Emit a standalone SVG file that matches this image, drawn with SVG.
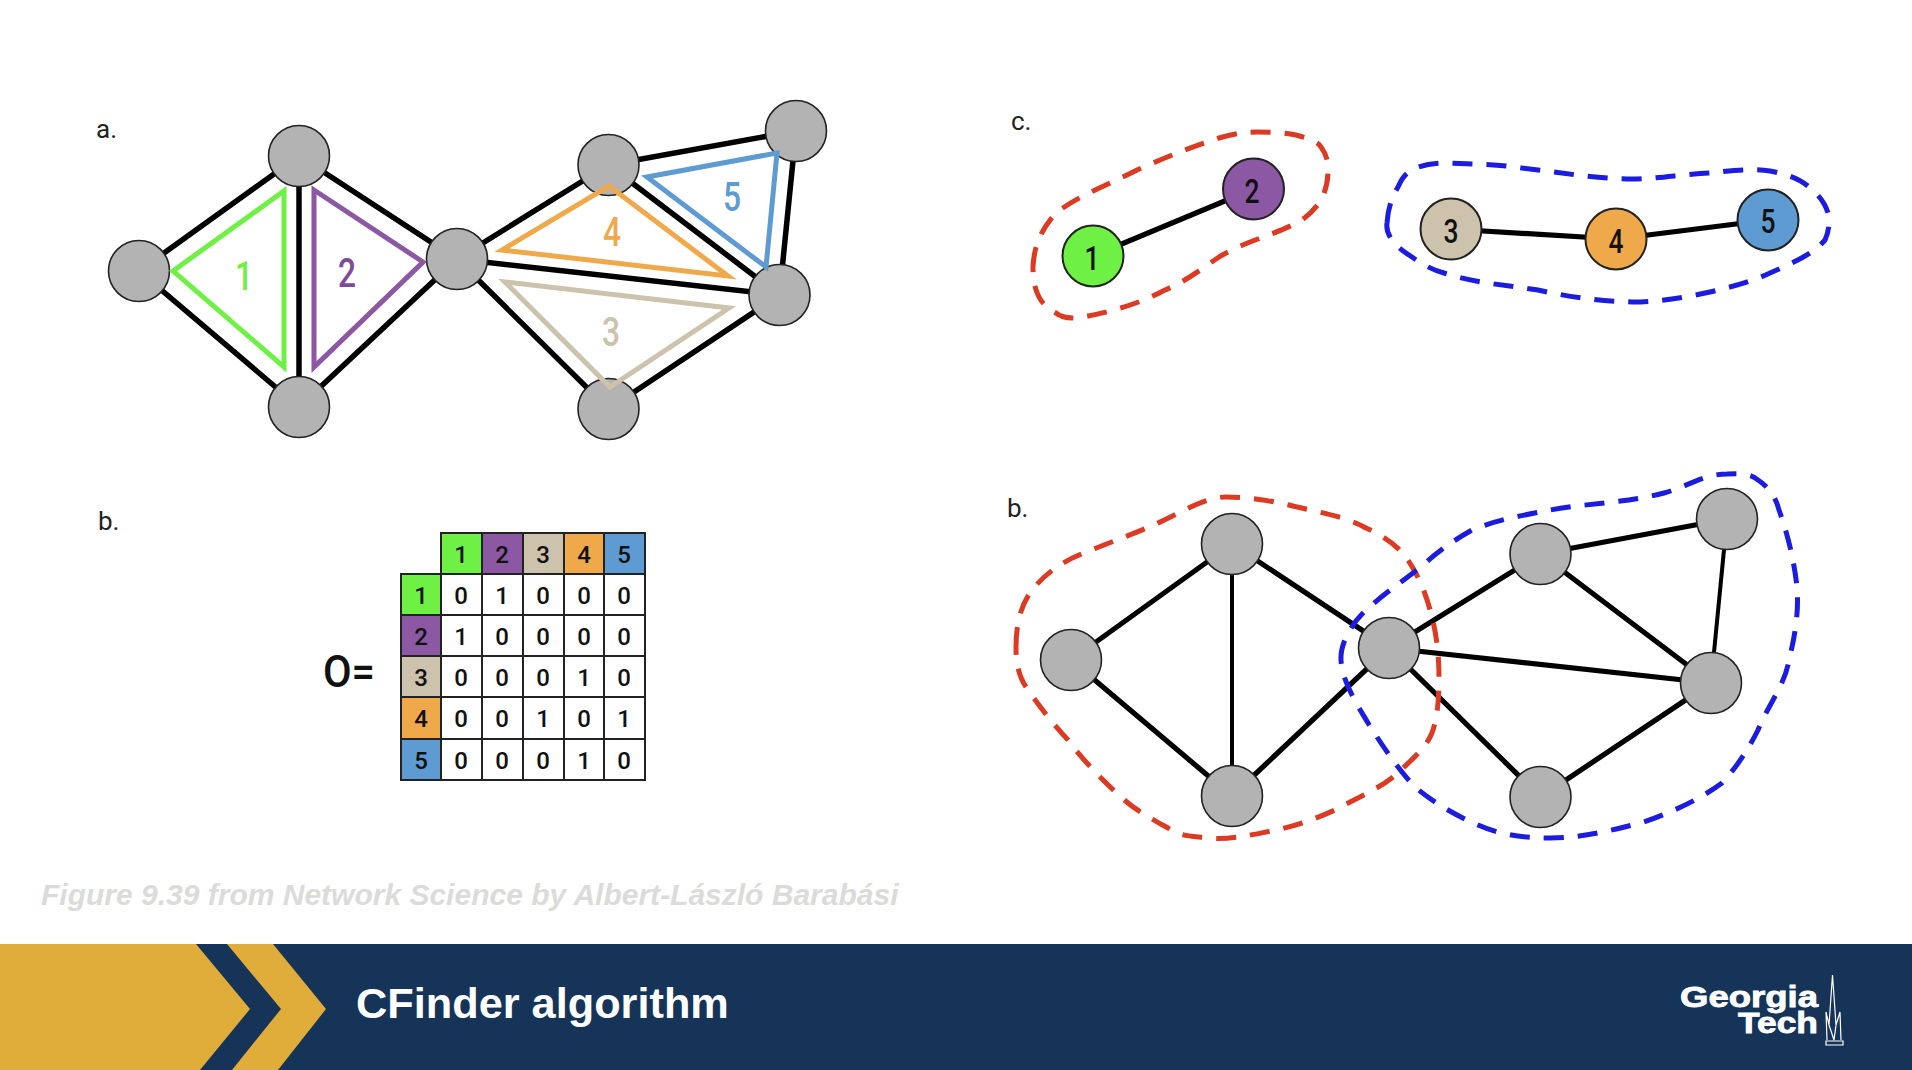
<svg xmlns="http://www.w3.org/2000/svg" width="1912" height="1070" viewBox="0 0 1912 1070">
<style>
text{font-family:Roboto,"Liberation Sans",Arial,sans-serif;font-weight:500}
.lab{font-size:26px;fill:#222;font-weight:400}
.e{stroke:#000;stroke-width:5.5;fill:none}
.eb{stroke:#000;stroke-width:5.2;fill:none}
.thin{stroke:#000;stroke-width:4;fill:none}
.n{fill:#b3b3b3;stroke:#222;stroke-width:1.6}
.tri{fill:none;stroke-width:5;stroke-linejoin:miter}
.big{font-size:40px;text-anchor:middle}
.cd{font-size:33px;text-anchor:middle;fill:#111}
.td{font-size:24px;text-anchor:middle;fill:#111}
.cell{stroke:#222;stroke-width:2}
.w{fill:#fff}.g{fill:#6ff044}.p{fill:#8c57a3}.t{fill:#cdc2ab}.o{fill:#efa94b}.b{fill:#5e9bd2}
.red{fill:none;stroke:#dc3a22;stroke-width:5;stroke-dasharray:20 14}
.blue{fill:none;stroke:#1c1ce0;stroke-width:5;stroke-dasharray:20 14}
.sans{font-family:"Liberation Sans",Arial,sans-serif;font-weight:700}
</style>
<rect width="1912" height="1070" fill="#fff"/>

<g id="panel-a">
<text class="lab" x="96" y="138">a.</text>
<g id="a-connectors">
<path class="e" d="M139 271L299 156M139 271L299 407M299 156V407M299 156L457 259M299 407L457 259M457 259L608.500 165M457 259L779.500 295M457 259L608.500 409M608.500 165L796 131M608.500 165L779.500 295M796 131L779.500 295M779.500 295L608.500 409"/>
</g>
<g id="a-node-1"><ellipse class="n" cx="139" cy="271" rx="30.500" ry="30.500"/></g>
<g id="a-node-2"><ellipse class="n" cx="299" cy="156" rx="30.500" ry="30.500"/></g>
<g id="a-node-3"><ellipse class="n" cx="299" cy="407" rx="30.500" ry="30.500"/></g>
<g id="a-node-4"><ellipse class="n" cx="457" cy="259" rx="30.500" ry="30.500"/></g>
<g id="a-node-5"><ellipse class="n" cx="608.500" cy="165" rx="30.500" ry="30.500"/></g>
<g id="a-node-6"><ellipse class="n" cx="796" cy="131" rx="30.500" ry="30.500"/></g>
<g id="a-node-7"><ellipse class="n" cx="779.500" cy="295" rx="30.500" ry="30.500"/></g>
<g id="a-node-8"><ellipse class="n" cx="608.500" cy="409" rx="30.500" ry="30.500"/></g>
<g id="clique-1"><polygon class="tri" stroke="#6ff044" points="173,271 284,191 284,367"/><text class="big" x="244" y="290" fill="#6ff044" textLength="18" lengthAdjust="spacingAndGlyphs">1</text></g>
<g id="clique-2"><polygon class="tri" stroke="#8c57a3" points="314,190 423,262 314,367"/><text class="big" x="347" y="287" fill="#7f4a9a" textLength="18" lengthAdjust="spacingAndGlyphs">2</text></g>
<g id="clique-3"><polygon class="tri" stroke="#cdc2ab" points="505,282 729,308 610,387"/><text class="big" x="611" y="346" fill="#cdc2ab" textLength="18" lengthAdjust="spacingAndGlyphs">3</text></g>
<g id="clique-4"><polygon class="tri" stroke="#efa94b" points="609,186 728,276 502,250"/><text class="big" x="612" y="246" fill="#efa94b" textLength="18" lengthAdjust="spacingAndGlyphs">4</text></g>
<g id="clique-5"><polygon class="tri" stroke="#5e9bd2" points="777,153 766,267 647,177"/><text class="big" x="732" y="211" fill="#5e9bd2" textLength="18" lengthAdjust="spacingAndGlyphs">5</text></g>
</g>

<g id="panel-matrix">
<text class="lab" x="98" y="530">b.</text>
<text x="323" y="687" font-size="45" fill="#111" textLength="52" lengthAdjust="spacingAndGlyphs">O=</text>
<g id="matrix-head">
<rect class="cell g" x="441" y="533" width="41" height="41"/><text class="td" x="461" y="563">1</text>
<rect class="cell p" x="482" y="533" width="41" height="41"/><text class="td" x="502" y="563">2</text>
<rect class="cell t" x="523" y="533" width="41" height="41"/><text class="td" x="543" y="563">3</text>
<rect class="cell o" x="564" y="533" width="40" height="41"/><text class="td" x="584" y="563">4</text>
<rect class="cell b" x="604" y="533" width="41" height="41"/><text class="td" x="624" y="563">5</text>
<rect class="cell g" x="401" y="574" width="40" height="41"/><text class="td" x="421" y="604">1</text>
<rect class="cell p" x="401" y="615" width="40" height="41"/><text class="td" x="421" y="645">2</text>
<rect class="cell t" x="401" y="656" width="40" height="41"/><text class="td" x="421" y="686">3</text>
<rect class="cell o" x="401" y="697" width="40" height="42"/><text class="td" x="421" y="727">4</text>
<rect class="cell b" x="401" y="739" width="40" height="41"/><text class="td" x="421" y="769">5</text>
</g>
<g id="matrix-cells">
<rect class="cell w" x="441" y="574" width="204" height="206"/>
<path class="cell" fill="none" d="M482 574V780M523 574V780M564 574V780M604 574V780M441 615H645M441 656H645M441 697H645M441 739H645"/>
<text class="td" x="461" y="604">0</text><text class="td" x="502" y="604">1</text><text class="td" x="543" y="604">0</text><text class="td" x="584" y="604">0</text><text class="td" x="624" y="604">0</text>
<text class="td" x="461" y="645">1</text><text class="td" x="502" y="645">0</text><text class="td" x="543" y="645">0</text><text class="td" x="584" y="645">0</text><text class="td" x="624" y="645">0</text>
<text class="td" x="461" y="686">0</text><text class="td" x="502" y="686">0</text><text class="td" x="543" y="686">0</text><text class="td" x="584" y="686">1</text><text class="td" x="624" y="686">0</text>
<text class="td" x="461" y="727">0</text><text class="td" x="502" y="727">0</text><text class="td" x="543" y="727">1</text><text class="td" x="584" y="727">0</text><text class="td" x="624" y="727">1</text>
<text class="td" x="461" y="769">0</text><text class="td" x="502" y="769">0</text><text class="td" x="543" y="769">0</text><text class="td" x="584" y="769">1</text><text class="td" x="624" y="769">0</text>
</g>
</g>

<g id="panel-c">
<text class="lab" x="1011" y="130">c.</text>
<path class="red" d="M1033 267C1034 245 1042 228 1056 213C1079 195 1108 185 1137 170C1168 156 1192 147 1219 138C1237 133 1247 132 1257 132C1276 132 1286 133 1296 135C1311 139 1318 142 1321 147C1327 155 1328 162 1328 170C1328 182 1326 190 1321 200C1316 208 1310 214 1302 220C1276 235 1247 240 1219 257C1197 272 1188 280 1165 290C1139 304 1110 312 1083 317C1072 319 1062 318 1056 313C1048 309 1042 303 1039 297C1034 287 1033 278 1033 267Z"/>
<path class="blue" d="M1387 223C1388 208 1392 197 1398 187C1402 178 1406 173 1412 170C1421 165 1433 163 1444 163C1470 164 1496 164 1522 168C1559 172 1595 179 1632 179C1658 179 1683 174 1710 173C1729 171 1749 168 1770 171C1786 174 1799 178 1809 187C1819 195 1825 203 1828 213C1830 222 1829 231 1825 240C1812 255 1792 263 1770 273C1751 282 1731 287 1710 292C1683 298 1658 302 1632 302C1599 301 1569 297 1538 290C1506 285 1474 283 1444 273C1432 270 1422 264 1412 257C1404 252 1397 247 1392 240C1388 234 1386 230 1387 223Z"/>
<g id="c-connectors"><path class="eb" d="M1093 256L1253.500 189M1451 229L1616 239M1616 239L1768 220"/></g>
<g id="c-node-1"><ellipse class="cell g" cx="1093" cy="256" rx="30.500" ry="30.500"/><text class="cd" x="1092" y="270" textLength="15" lengthAdjust="spacingAndGlyphs">1</text></g>
<g id="c-node-2"><ellipse class="cell p" cx="1253.500" cy="189" rx="30.500" ry="30.500"/><text class="cd" x="1252" y="203" textLength="15" lengthAdjust="spacingAndGlyphs">2</text></g>
<g id="c-node-3"><ellipse class="cell t" cx="1451" cy="229" rx="30.500" ry="30.500"/><text class="cd" x="1451" y="243" textLength="15" lengthAdjust="spacingAndGlyphs">3</text></g>
<g id="c-node-4"><ellipse class="cell o" cx="1616" cy="239" rx="30.500" ry="30.500"/><text class="cd" x="1616" y="253" textLength="15" lengthAdjust="spacingAndGlyphs">4</text></g>
<g id="c-node-5"><ellipse class="cell b" cx="1768" cy="220" rx="30.500" ry="30.500"/><text class="cd" x="1768" y="233" textLength="15" lengthAdjust="spacingAndGlyphs">5</text></g>
</g>

<g id="panel-b">
<text class="lab" x="1007" y="517">b.</text>
<g id="b-connectors">
<path class="eb" d="M1071 660L1232 544M1071 660L1232 796M1232 544L1389 648M1232 796L1389 648M1389 648L1540.500 554M1389 648L1711 683M1389 648L1540.500 797M1540.500 554L1727 519M1540.500 554L1711 683M1711 683L1540.500 797"/>
<path class="thin" d="M1232 544V796M1727 519L1711 683"/>
</g>
<g id="b-node-1"><ellipse class="n" cx="1071" cy="660" rx="30.500" ry="30.500"/></g>
<g id="b-node-2"><ellipse class="n" cx="1232" cy="544" rx="30.500" ry="30.500"/></g>
<g id="b-node-3"><ellipse class="n" cx="1232" cy="796" rx="30.500" ry="30.500"/></g>
<g id="b-node-4"><ellipse class="n" cx="1389" cy="648" rx="30.500" ry="30.500"/></g>
<g id="b-node-5"><ellipse class="n" cx="1540.500" cy="554" rx="30.500" ry="30.500"/></g>
<g id="b-node-6"><ellipse class="n" cx="1727" cy="519" rx="30.500" ry="30.500"/></g>
<g id="b-node-7"><ellipse class="n" cx="1711" cy="683" rx="30.500" ry="30.500"/></g>
<g id="b-node-8"><ellipse class="n" cx="1540.500" cy="797" rx="30.500" ry="30.500"/></g>
<path class="red" d="M1016 647C1016 626 1020 606 1032 590C1044 575 1060 563 1079 555C1105 544 1132 535 1158 523C1180 513 1205 497 1226 497C1245 497 1268 500 1289 505C1316 512 1345 516 1366 528C1386 537 1400 548 1408 560C1420 578 1427 597 1432 617C1437 637 1439 657 1439 677C1439 697 1438 716 1432 733C1426 748 1410 761 1398 773C1378 790 1358 797 1335 810C1313 820 1290 828 1266 832C1246 836 1227 840 1208 838C1193 836 1181 837 1168 828C1150 818 1135 810 1121 797C1100 778 1083 760 1068 740C1053 724 1039 706 1026 687C1018 675 1016 661 1016 647Z"/>
<path class="blue" d="M1341 660C1340 645 1350 626 1363 613C1382 595 1400 583 1421 567C1437 552 1454 540 1472 530C1496 520 1524 515 1550 510C1588 503 1627 503 1664 493C1686 487 1704 474 1727 474C1741 473 1752 474 1758 480C1770 488 1776 498 1779 510C1788 535 1794 560 1797 587C1799 612 1795 636 1789 660C1785 685 1768 705 1758 730C1748 750 1736 768 1722 783C1699 800 1672 812 1644 822C1613 830 1583 838 1550 838C1524 838 1501 835 1478 825C1455 815 1434 803 1415 787C1397 768 1382 745 1368 723C1358 706 1342 682 1341 660Z"/>
</g>

<text class="sans" x="41" y="905" font-size="30" font-style="italic" fill="#dbdcda">Figure 9.39 from Network Science by Albert-László Barabási</text>

<g id="footer">
<rect y="944" width="1912" height="126" fill="#163458"/>
<polygon fill="#e0ac3a" points="0,944 196,944 250,1009 200,1070 0,1070"/>
<polygon fill="#e0ac3a" points="227,944 273,944 326,1009 278,1070 232,1070 281,1009"/>
<text class="sans" x="356" y="1018" font-size="43.300" fill="#fff">CFinder algorithm</text>
<text class="sans" x="1680" y="1007" font-size="29" stroke="#fff" stroke-width=".8" fill="#fff" textLength="138" lengthAdjust="spacingAndGlyphs">Georgia</text>
<text class="sans" x="1738" y="1033" font-size="29" stroke="#fff" stroke-width=".8" fill="#fff" textLength="80" lengthAdjust="spacingAndGlyphs">Tech</text>
<path fill="none" stroke="#fff" stroke-width="1.2" d="M1832.500 975L1829 1025L1826 1012L1827 1040M1832.500 975L1836 1025L1840 1012L1841 1040M1829 1025L1834 1040L1836 1025M1826 1041H1843V1045H1826Z"/>
</g>
</svg>
